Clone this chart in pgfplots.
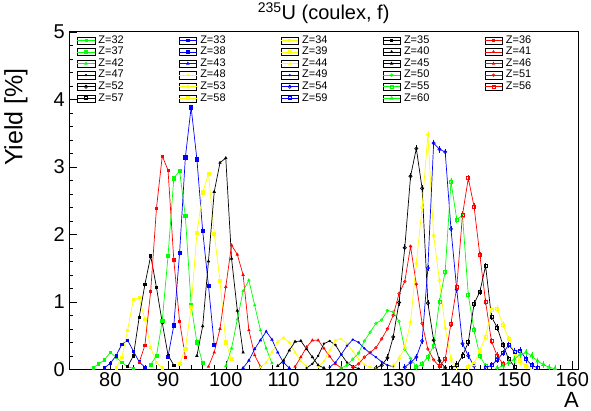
\documentclass[border=0pt]{standalone}
\usepackage{fontspec}
\setmainfont{Liberation Sans}
\usepackage{pgfplots}
\pgfplotsset{compat=1.18}

\definecolor{rgreen}{RGB}{0,255,0}
\definecolor{rblue}{RGB}{0,0,255}
\definecolor{ryellow}{RGB}{255,255,0}
\definecolor{rred}{RGB}{255,0,0}

\pgfplotsset{
  zline/.style={line width=0.7pt, mark options={solid}},
  mA/.style={zline, mark=square*, mark size=1.1pt},
  mB/.style={zline, mark=square*, mark size=1.6pt},
  mC/.style={zline, mark=triangle*, mark size=1.3pt},
  mD/.style={zline, mark=*, mark size=0.8pt},
  mE/.style={zline, mark=o, mark size=1.6pt},
  mF/.style={zline, mark=square, mark size=1.5pt},
  mG/.style={zline, mark=triangle, mark size=1.9pt},
  err/.style={error bars/.cd, y dir=both, y fixed=0.05, error mark=none,
    error bar style={line width=0.6pt}},
}

\begin{document}
\begin{tikzpicture}
\begin{axis}[
  scale only axis, width=508.7pt, height=337.5pt,
  xmin=72.9, xmax=161, ymin=0, ymax=5,
  xtick={80,90,...,160}, ytick={0,1,...,5},
  minor x tick num=4, minor y tick num=4,
  tick align=inside, xtick pos=bottom, ytick pos=left,
  major tick length=8pt, minor tick length=4pt,
  tick style={black, line width=0.5pt},
  axis line style={line width=0.8pt},
  /pgf/number format/assume math mode=true,
  ticklabel style={font=\fontsize{20}{20}\selectfont},
  yticklabel style={xshift=-1pt},
  title={\textsuperscript{235}U (coulex, f)},
  title style={at={(axis description cs:0.5,1)}, anchor=base, yshift=6pt,
    inner sep=0pt, font=\fontsize{20}{22}\selectfont},
  xlabel={A},
  xlabel style={at={(axis description cs:1.002,-0.068)}, anchor=north east,
    inner sep=0pt, font=\fontsize{22}{22}\selectfont},
  ylabel={Yield [\%]},
  ylabel style={at={(axis description cs:-0.1048,0.893)}, anchor=east,
    inner sep=0pt, font=\fontsize{25}{25}\selectfont},
  legend columns=5,
  legend cell align=left,
  legend image code/.code={
    \draw[black, line width=0.4pt, solid] (0pt,-3.6pt) rectangle (17.5pt,3.6pt);
    \draw[mark repeat=2, mark phase=2, #1] plot coordinates {(0pt,0pt) (8.75pt,0pt) (17.5pt,0pt)};
  },
  legend style={
    at={(axis description cs:0.0145,0.9905)}, anchor=north west,
    draw=none, fill=none, inner sep=0pt, row sep=1.4pt,
    font=\fontsize{11}{11}\selectfont,
    nodes={inner sep=0pt, text height=7.8pt, text depth=2.4pt},
    /tikz/every odd column/.append style={column sep=3.3pt},
    /tikz/every even column/.append style={column sep=55pt},
  },
]
% ---- light fragments ----
\addplot[color=rgreen, mA] coordinates {(77,0.02)(78,0.08)(79,0.14)(80,0.25)(81,0.18)(82,0.10)(83,0.04)(84,0.01)};
\addlegendentry{Z=32}
\addplot[color=rblue, mA] coordinates {(79,0.02)(80,0.09)(81,0.20)(82,0.37)(83,0.43)(84,0.27)(85,0.11)(86,0.03)};
\addlegendentry{Z=33}
\addplot[color=ryellow, mA] coordinates {(81,0.02)(82,0.18)(83,0.58)(84,1.04)(85,1.06)(86,0.74)(87,0.32)(88,0.10)(89,0.02)};
\addlegendentry{Z=34}
\addplot[color=black, mA] coordinates {(83,0.04)(84,0.20)(85,0.77)(86,1.26)(87,1.68)(88,1.21)(89,0.69)(90,0.21)(91,0.06)};
\addlegendentry{Z=35}
\addplot[color=rred, mA] coordinates {(85,0.10)(86,0.36)(87,1.16)(88,2.39)(89,3.16)(90,2.95)(91,1.62)(92,0.71)(93,0.18)};
\addlegendentry{Z=36}
\addplot[color=rgreen, mB] coordinates {(87,0.07)(88,0.20)(89,0.72)(90,1.68)(91,2.83)(92,2.94)(93,2.27)(94,0.95)(95,0.40)(96,0.09)};
\addlegendentry{Z=37}
\addplot[color=rblue, mB] coordinates {(90,0.19)(91,0.65)(92,1.72)(93,3.14)(94,3.88)(95,3.11)(96,2.05)(97,1.24)(98,0.36)};
\addlegendentry{Z=38}
\addplot[color=ryellow, mB] coordinates {(92,0.08)(93,0.30)(94,0.92)(95,2.02)(96,2.62)(97,2.90)(98,2.01)(99,1.31)(100,0.40)(101,0.15)};
\addlegendentry{Z=39}
\addplot[color=black, mC] coordinates {(95,0.20)(96,0.64)(97,1.60)(98,2.63)(99,3.06)(100,3.13)(101,1.64)(102,0.87)(103,0.25)};
\addlegendentry{Z=40}
\addplot[color=rred, mC] coordinates {(97,0.04)(98,0.25)(99,0.60)(100,1.22)(101,1.84)(102,1.70)(103,1.40)(104,0.58)(105,0.21)(106,0.04)};
\addlegendentry{Z=41}
\addplot[color=rgreen, mC] coordinates {(100,0.05)(101,0.31)(102,0.74)(103,1.16)(104,1.32)(105,0.95)(106,0.58)(107,0.31)(108,0.09)};
\addlegendentry{Z=42}
\addplot[color=rblue, mC] coordinates {(103,0.02)(104,0.13)(105,0.30)(106,0.43)(107,0.56)(108,0.44)(109,0.25)(110,0.10)(111,0.02)};
\addlegendentry{Z=43}
\addplot[color=ryellow, mC] coordinates {(106,0.03)(107,0.10)(108,0.25)(109,0.41)(110,0.47)(111,0.40)(112,0.25)(113,0.12)(114,0.04)};
\addlegendentry{Z=44}
\addplot[color=black, mC] coordinates {(109,0.05)(110,0.13)(111,0.28)(112,0.41)(113,0.42)(114,0.30)(115,0.18)(116,0.06)(117,0.02)};
\addlegendentry{Z=45}
\addplot[color=rred, mC] coordinates {(112,0.04)(113,0.18)(114,0.33)(115,0.43)(116,0.43)(117,0.31)(118,0.19)(119,0.08)(120,0.02)};
\addlegendentry{Z=46}
% ---- symmetric region and heavy fragments ----
\addplot[color=black, mD] coordinates {(114,0.02)(115,0.08)(116,0.20)(117,0.38)(118,0.42)(119,0.36)(120,0.22)(121,0.10)(122,0.04)(123,0.01)};
\addlegendentry{Z=47}
\addplot[color=ryellow, mD] coordinates {(116,0.03)(117,0.12)(118,0.28)(119,0.43)(120,0.45)(121,0.38)(122,0.27)(123,0.15)(124,0.07)(125,0.03)(126,0.01)};
\addlegendentry{Z=48}
\addplot[color=rblue, mD] coordinates {(118,0.03)(119,0.10)(120,0.22)(121,0.35)(122,0.44)(123,0.40)(124,0.31)(125,0.24)(126,0.18)(127,0.11)(128,0.06)(129,0.04)};
\addlegendentry{Z=49}
\addplot[color=rgreen, mE, mark size=1.3pt] coordinates {(120,0.02)(121,0.06)(122,0.15)(123,0.24)(124,0.42)(125,0.55)(126,0.68)(127,0.73)(128,0.87)(129,0.85)(130,0.71)(131,0.30)(132,0.16)(133,0.04)};
\addlegendentry{Z=50}
\addplot[color=rred, mE, mark size=1.3pt] coordinates {(122,0.03)(123,0.08)(124,0.18)(125,0.25)(126,0.32)(127,0.45)(128,0.60)(129,0.80)(130,1.12)(131,1.30)(132,1.82)(133,1.26)(134,0.68)(135,0.30)(136,0.14)(137,0.04)};
\addlegendentry{Z=51}
\addplot[color=black, mE, err] coordinates {(126,0.02)(127,0.06)(128,0.17)(129,0.48)(130,0.99)(131,1.80)(132,2.86)(133,3.27)(134,2.68)(135,0.98)(136,0.43)(137,0.13)(138,0.02)};
\addlegendentry{Z=52}
\addplot[color=ryellow, mE, err] coordinates {(129,0.05)(130,0.16)(131,0.32)(132,0.70)(133,1.57)(134,2.40)(135,3.48)(136,1.98)(137,1.32)(138,0.61)(139,0.15)(140,0.03)};
\addlegendentry{Z=53}
\addplot[color=rblue, mE, err] coordinates {(131,0.03)(132,0.10)(133,0.18)(134,0.42)(135,1.50)(136,3.35)(137,3.26)(138,3.22)(139,2.08)(140,1.18)(141,0.38)(142,0.20)(143,0.05)};
\addlegendentry{Z=54}
\addplot[color=rgreen, mF, err] coordinates {(133,0.03)(134,0.08)(135,0.18)(136,0.35)(137,1.00)(138,1.45)(139,2.78)(140,2.22)(141,2.28)(142,1.10)(143,0.58)(144,0.20)(145,0.05)};
\addlegendentry{Z=55}
\addplot[color=rred, mF, err] coordinates {(137,0.05)(138,0.15)(139,0.68)(140,1.22)(141,2.29)(142,2.83)(143,2.41)(144,1.69)(145,1.00)(146,0.42)(147,0.20)(148,0.08)};
\addlegendentry{Z=56}
\addplot[color=black, mF, err] coordinates {(139,0.02)(140,0.06)(141,0.20)(142,0.40)(143,0.97)(144,1.15)(145,1.53)(146,0.78)(147,0.62)(148,0.36)(149,0.15)(150,0.04)};
\addlegendentry{Z=57}
\addplot[color=ryellow, mF, err] coordinates {(142,0.03)(143,0.08)(144,0.28)(145,0.48)(146,0.88)(147,0.90)(148,0.66)(149,0.45)(150,0.24)(151,0.12)(152,0.05)(153,0.02)};
\addlegendentry{Z=58}
\addplot[color=rblue, mF, err] coordinates {(145,0.02)(146,0.06)(147,0.14)(148,0.24)(149,0.36)(150,0.26)(151,0.28)(152,0.15)(153,0.06)(154,0.02)};
\addlegendentry{Z=59}
\addplot[color=rgreen, mG, err] coordinates {(147,0.02)(148,0.05)(149,0.10)(150,0.15)(151,0.22)(152,0.25)(153,0.20)(154,0.12)(155,0.07)(156,0.03)(157,0.01)};
\addlegendentry{Z=60}
\end{axis}
\pgfresetboundingbox
\path[use as bounding box] (current axis.south west) ++(-69.3pt,-41.7pt) rectangle ++(591pt,411pt);
\end{tikzpicture}
\end{document}
